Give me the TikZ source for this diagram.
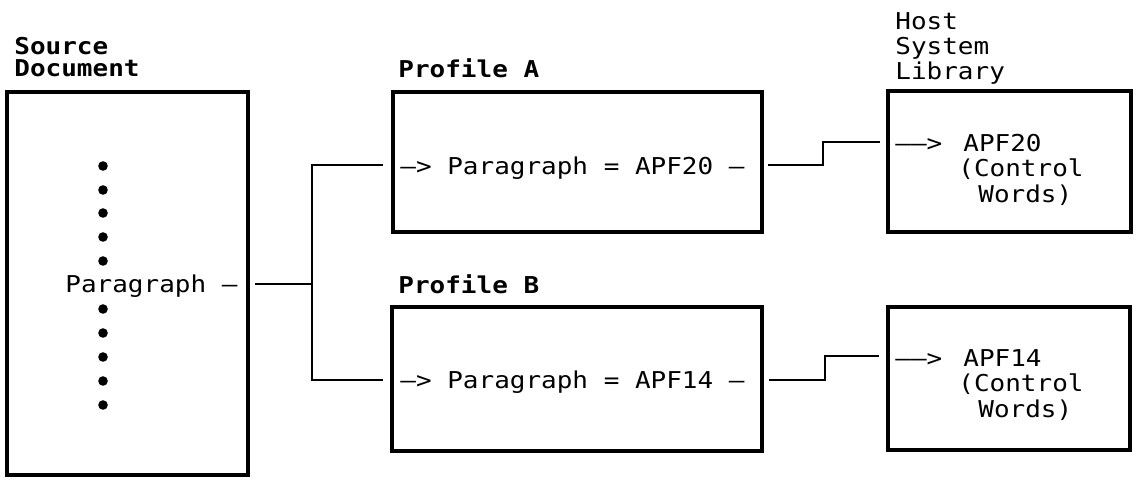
\documentclass[tikz,border=0pt]{standalone}
\usepackage{fontspec}
\newfontfamily\mono[FakeStretch=1.12]{DejaVu Sans Mono}
\begin{document}
\begin{tikzpicture}[x=0.5pt,y=-0.5pt]
\tikzset{
  box/.style={draw, line width=1.6pt, rectangle, inner sep=0pt},
  wire/.style={line width=1.2pt},
  txt/.style={anchor=base west, inner sep=0pt, font=\mono\fontsize{11.6}{12}\selectfont},
  head/.style={anchor=base west, inner sep=0pt, font=\mono\bfseries\fontsize{11.6}{12}\selectfont},
  dotmark/.style={circle, fill, inner sep=0pt, minimum size=4.8pt},
}
\useasboundingbox (0,0) rectangle (1139,481);

% boxes
\node[box, minimum width=120.5pt, minimum height=191.5pt] (src) at (127.5,283.5) {};
\node[box, minimum width=184.5pt, minimum height=70pt] (profA) at (577.5,162) {};
\node[box, minimum width=185pt, minimum height=72pt] (profB) at (577,379) {};
\node[box, minimum width=121.5pt, minimum height=70.5pt] (hostA) at (1009.5,161.5) {};
\node[box, minimum width=121pt, minimum height=71.5pt] (hostB) at (1009,378.5) {};

% headings
\node[head] (srcT1) at (14,55) {Source};
\node[head] (srcT2) at (14,77) {Document};
\node[head] (profAT) at (398,78) {Profile A};
\node[head] (profBT) at (398,293) {Profile B};
\node[txt] (hostT1) at (895,30) {Host};
\node[txt] (hostT2) at (895,55) {System};
\node[txt] (hostT3) at (895,80) {Library};

% source document contents
\foreach \i/\y in {1/166,2/190,3/213,4/237,5/261,6/309,7/333,8/357,9/381,10/405}
  \node[dotmark] (dot\i) at (103,\y) {};
\node[txt] (srcPar) at (65,292) {Paragraph –};

% profile contents
\node[txt] (profAPar) at (400,174) {–> Paragraph = APF20 –};
\node[txt] (profBPar) at (400,388) {–> Paragraph = APF14 –};

% library contents
\node[txt] (hostAArr) at (895,151) {——>};
\node[txt] (hostAName) at (963,151) {APF20};
\node[txt] (hostACtl) at (958,176.5) {(Control};
\node[txt] (hostAWrd) at (978,202) {Words)};
\node[txt] (hostBArr) at (895,366) {——>};
\node[txt] (hostBName) at (963,366) {APF14};
\node[txt] (hostBCtl) at (958,391.5) {(Control};
\node[txt] (hostBWrd) at (978,417) {Words)};

% connector end points
\coordinate (srcOut) at (255,284);
\coordinate (jMid) at (312,284);
\coordinate (jA) at (312,165);
\coordinate (jB) at (312,380);
\coordinate (profAIn) at (383,165);
\coordinate (profBIn) at (383,380);
\coordinate (profAOut) at (768,165);
\coordinate (stepA) at (823,153);
\coordinate (hostAIn) at (880,142);
\coordinate (profBOut) at (769,380);
\coordinate (stepB) at (825,368);
\coordinate (hostBIn) at (879,356);

% connectors
\draw[wire] (srcOut) -- (jMid);
\draw[wire] (profAIn) -- (jA) -- (jB) -- (profBIn);
\draw[wire] (profAOut) -| (stepA) |- (hostAIn);
\draw[wire] (profBOut) -| (stepB) |- (hostBIn);
\end{tikzpicture}
\end{document}
